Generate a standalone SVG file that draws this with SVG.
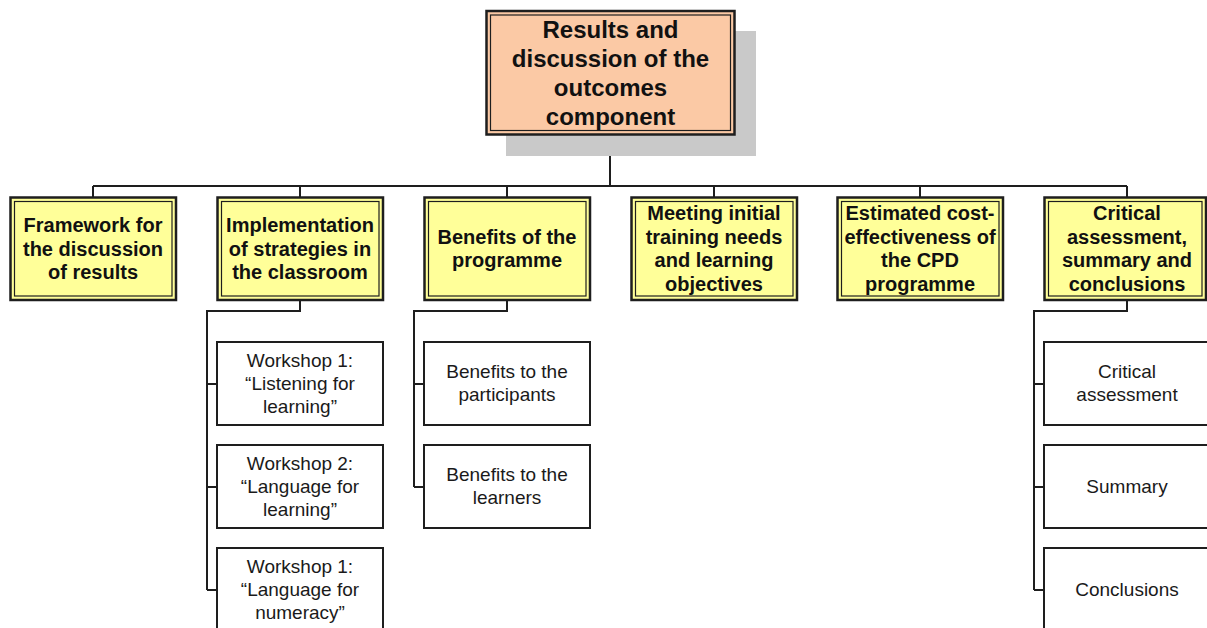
<svg xmlns="http://www.w3.org/2000/svg" width="1207" height="628" viewBox="0 0 1207 628">
<style>
.bg{fill:#ffffff}
.shadow{fill:#c9c9c9}
.rootOuter{fill:#fbc9a5;stroke:#1e1e1e;stroke-width:2.5}
.rootInner{fill:none;stroke:#1e1e1e;stroke-width:1.2}
.l1Outer{fill:#ffff99;stroke:#1e1e1e;stroke-width:2.5}
.l1Inner{fill:none;stroke:#1e1e1e;stroke-width:1.2}
.leaf{fill:#ffffff;stroke:#1e1e1e;stroke-width:2}
.conn{fill:none;stroke:#1e1e1e;stroke-width:2}
.tRoot{font-family:"Liberation Sans",Arial,sans-serif;font-weight:bold;font-size:24px;fill:#111;text-anchor:middle}
.tL1{font-family:"Liberation Sans",Arial,sans-serif;font-weight:bold;font-size:20px;fill:#111;text-anchor:middle}
.tLeaf{font-family:"Liberation Sans",Arial,sans-serif;font-size:19px;fill:#1a1a1a;text-anchor:middle}
</style>
<rect class="bg" x="0" y="0" width="1207" height="628"/>
<g id="connectors">
<path class="conn" d="M610,135 V186"/>
<path class="conn" d="M93,186 H1127"/>
<path class="conn" d="M93,186 V197 M300,186 V197 M507,186 V197 M714,186 V197 M920,186 V197 M1127,186 V197"/>
<path class="conn" d="M300,300 V311 H207 V590 M207,384 H217 M207,487 H217 M207,590 H217"/>
<path class="conn" d="M507,300 V311 H414 V487 M414,384 H424 M414,487 H424"/>
<path class="conn" d="M1127,300 V311 H1034 V590 M1034,384 H1044 M1034,487 H1044 M1034,590 H1044"/>
</g>
<g id="root">
<rect class="shadow" x="506" y="31" width="250" height="125"/>
<rect class="rootOuter" x="486.5" y="11" width="248" height="123.5"/>
<rect class="rootInner" x="490.5" y="15" width="240" height="115.5"/>
<text class="tRoot" x="610.5" y="37.5">Results and</text>
<text class="tRoot" x="610.5" y="66.5">discussion of the</text>
<text class="tRoot" x="610.5" y="95.5">outcomes</text>
<text class="tRoot" x="610.5" y="124.5">component</text>
</g>
<g id="n1">
<rect class="l1Outer" x="10.5" y="197.5" width="165.5" height="102.5"/>
<rect class="l1Inner" x="14.5" y="201.5" width="157.5" height="94.5"/>
<text class="tL1" x="93" y="232">Framework for</text>
<text class="tL1" x="93" y="255.5">the discussion</text>
<text class="tL1" x="93" y="279">of results</text>
</g>
<g id="n2">
<rect class="l1Outer" x="217.5" y="197.5" width="165.5" height="102.5"/>
<rect class="l1Inner" x="221.5" y="201.5" width="157.5" height="94.5"/>
<text class="tL1" x="300" y="232">Implementation</text>
<text class="tL1" x="300" y="255.5">of strategies in</text>
<text class="tL1" x="300" y="279">the classroom</text>
</g>
<g id="n3">
<rect class="l1Outer" x="424.5" y="197.5" width="165.5" height="102.5"/>
<rect class="l1Inner" x="428.5" y="201.5" width="157.5" height="94.5"/>
<text class="tL1" x="507" y="243.5">Benefits of the</text>
<text class="tL1" x="507" y="267">programme</text>
</g>
<g id="n4">
<rect class="l1Outer" x="631.5" y="197.5" width="165.5" height="102.5"/>
<rect class="l1Inner" x="635.5" y="201.5" width="157.5" height="94.5"/>
<text class="tL1" x="714" y="220">Meeting initial</text>
<text class="tL1" x="714" y="243.5">training needs</text>
<text class="tL1" x="714" y="267">and learning</text>
<text class="tL1" x="714" y="290.5">objectives</text>
</g>
<g id="n5">
<rect class="l1Outer" x="837.5" y="197.5" width="165.5" height="102.5"/>
<rect class="l1Inner" x="841.5" y="201.5" width="157.5" height="94.5"/>
<text class="tL1" x="920" y="220">Estimated cost-</text>
<text class="tL1" x="920" y="243.5">effectiveness of</text>
<text class="tL1" x="920" y="267">the CPD</text>
<text class="tL1" x="920" y="290.5">programme</text>
</g>
<g id="n6">
<rect class="l1Outer" x="1044.5" y="197.5" width="161.5" height="102.5"/>
<rect class="l1Inner" x="1048.5" y="201.5" width="153.5" height="94.5"/>
<text class="tL1" x="1127" y="220">Critical</text>
<text class="tL1" x="1127" y="243.5">assessment,</text>
<text class="tL1" x="1127" y="267">summary and</text>
<text class="tL1" x="1127" y="290.5">conclusions</text>
</g>
<g id="n2a">
<rect class="leaf" x="217" y="342" width="166" height="83"/>
<text class="tLeaf" x="300" y="367">Workshop 1:</text>
<text class="tLeaf" x="300" y="390">“Listening for</text>
<text class="tLeaf" x="300" y="413">learning”</text>
</g>
<g id="n2b">
<rect class="leaf" x="217" y="445" width="166" height="83"/>
<text class="tLeaf" x="300" y="470">Workshop 2:</text>
<text class="tLeaf" x="300" y="493">“Language for</text>
<text class="tLeaf" x="300" y="516">learning”</text>
</g>
<g id="n2c">
<rect class="leaf" x="217" y="548" width="166" height="90"/>
<text class="tLeaf" x="300" y="573">Workshop 1:</text>
<text class="tLeaf" x="300" y="596">“Language for</text>
<text class="tLeaf" x="300" y="619">numeracy”</text>
</g>
<g id="n3a">
<rect class="leaf" x="424" y="342" width="166" height="83"/>
<text class="tLeaf" x="507" y="378">Benefits to the</text>
<text class="tLeaf" x="507" y="401">participants</text>
</g>
<g id="n3b">
<rect class="leaf" x="424" y="445" width="166" height="83"/>
<text class="tLeaf" x="507" y="481">Benefits to the</text>
<text class="tLeaf" x="507" y="504">learners</text>
</g>
<g id="n6a">
<rect class="leaf" x="1044" y="342" width="170" height="83"/>
<text class="tLeaf" x="1127" y="378">Critical</text>
<text class="tLeaf" x="1127" y="401">assessment</text>
</g>
<g id="n6b">
<rect class="leaf" x="1044" y="445" width="170" height="83"/>
<text class="tLeaf" x="1127" y="493">Summary</text>
</g>
<g id="n6c">
<rect class="leaf" x="1044" y="548" width="170" height="90"/>
<text class="tLeaf" x="1127" y="596">Conclusions</text>
</g>
</svg>
